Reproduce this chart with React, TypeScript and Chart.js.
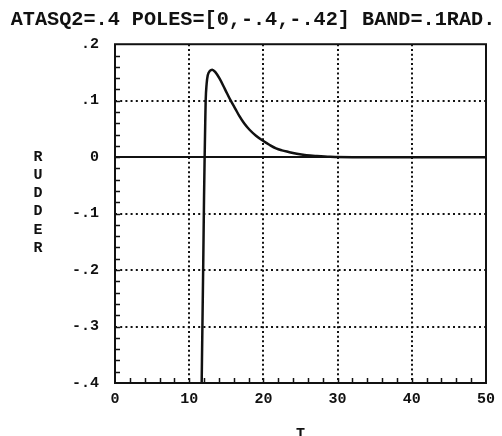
import React, { useEffect, useRef } from "react";
import { Chart, registerables } from "chart.js";

Chart.register(...registerables);

const titleText = "ATASQ2=.4 POLES=[0,-.4,-.42] BAND=.1RAD.";
const yAxisLetters = ["R", "U", "D", "D", "E", "R"];
const xAxisTitle = "T";

const timeValues = [
  11.66, 11.78, 11.9, 12.0, 12.08, 12.16, 12.22, 12.35, 12.5, 12.8, 13.1, 13.5, 14.1, 14.8,
  15.6, 16.2, 16.75, 17.4, 18.1, 19.0, 20.0, 20.8, 21.7, 22.5, 23.4, 24.5, 25.8, 27.2, 29.0,
  32.0, 50.0,
];
const rudderValues = [
  -0.42, -0.3, -0.18, -0.07, 0.0, 0.06, 0.1, 0.13, 0.145, 0.153, 0.155, 0.151, 0.139, 0.121,
  0.1, 0.086, 0.073, 0.06, 0.049, 0.038, 0.0286, 0.022, 0.0155, 0.012, 0.0092, 0.006, 0.0035,
  0.002, 0.0006, 0, 0,
];

const xTickValues = [0, 10, 20, 30, 40, 50];
const xTickLabels = ["0", "10", "20", "30", "40", "50"];
const yTickValues = [0.2, 0.1, 0, -0.1, -0.2, -0.3, -0.4];
const yTickLabels = [".2", ".1", "0", "-.1", "-.2", "-.3", "-.4"];
const xGridValues = [10, 20, 30, 40];
const yGridValues = [0.1, -0.1, -0.2, -0.3];

const INK = "#111111";
const FONT = "'Liberation Mono', 'DejaVu Sans Mono', monospace";

const decorPlugin = {
  id: "decor",
  beforeDatasetsDraw(chart: any) {
    const { ctx, chartArea: a, scales } = chart;
    const xs = scales.x;
    const ys = scales.y;
    ctx.save();
    ctx.strokeStyle = INK;
    ctx.lineWidth = 2;
    ctx.setLineDash([2, 2.7]);
    for (const v of xGridValues) {
      const px = Math.round(xs.getPixelForValue(v));
      ctx.beginPath();
      ctx.moveTo(px, a.top);
      ctx.lineTo(px, a.bottom);
      ctx.stroke();
    }
    ctx.setLineDash([2, 3.2]);
    for (const v of yGridValues) {
      const py = Math.round(ys.getPixelForValue(v));
      ctx.beginPath();
      ctx.moveTo(a.left, py);
      ctx.lineTo(a.right, py);
      ctx.stroke();
    }
    ctx.setLineDash([]);
    const zy = Math.round(ys.getPixelForValue(0));
    ctx.lineWidth = 2;
    ctx.beginPath();
    ctx.moveTo(a.left, zy);
    ctx.lineTo(a.right, zy);
    ctx.stroke();
    ctx.restore();
  },
  afterDatasetsDraw(chart: any) {
    const { ctx, chartArea: a, scales } = chart;
    const xs = scales.x;
    const ys = scales.y;
    ctx.save();
    ctx.strokeStyle = INK;
    ctx.lineWidth = 1.5;
    for (let i = 1; i < 25; i++) {
      const px = Math.round(xs.getPixelForValue(i * 2)) + 0.5;
      ctx.beginPath();
      ctx.moveTo(px, a.bottom);
      ctx.lineTo(px, a.bottom - 5);
      ctx.stroke();
    }
    for (let i = 1; i < 30; i++) {
      const py = Math.round(ys.getPixelForValue(-0.4 + i * 0.02)) + 0.5;
      ctx.beginPath();
      ctx.moveTo(a.left, py);
      ctx.lineTo(a.left + 5, py);
      ctx.stroke();
    }
    ctx.lineWidth = 2;
    ctx.strokeRect(a.left, a.top, a.right - a.left, a.bottom - a.top);
    ctx.fillStyle = INK;
    ctx.font = `bold 15px ${FONT}`;
    ctx.textAlign = "center";
    ctx.textBaseline = "middle";
    yAxisLetters.forEach((ch, i) => {
      ctx.fillText(ch, 38, 157 + i * 18.2);
    });
    ctx.restore();
  },
};

export default function App() {
  const canvasRef = useRef<HTMLCanvasElement | null>(null);

  useEffect(() => {
    const canvas = canvasRef.current;
    if (!canvas) return;
    const points = timeValues.map((t, i) => ({ x: t, y: rudderValues[i] }));
    const chart = new Chart(canvas, {
      type: "line",
      data: {
        datasets: [
          {
            data: points,
            borderColor: INK,
            borderWidth: 2.5,
            pointRadius: 0,
            cubicInterpolationMode: "monotone",
            fill: false,
          },
        ],
      },
      options: {
        responsive: false,
        animation: false,
        layout: { padding: { left: 6, right: 2, top: 0, bottom: 0 } },
        plugins: {
          legend: { display: false },
          tooltip: { enabled: false },
          title: {
            display: true,
            text: titleText,
            color: INK,
            font: { family: FONT, size: 20.2, weight: "bold", lineHeight: 1.15 },
            padding: { top: 8, bottom: 13 },
          },
        },
        scales: {
          x: {
            type: "linear",
            min: 0,
            max: 50,
            afterBuildTicks: (scale: any) => {
              scale.ticks = xTickValues.map((v) => ({ value: v }));
            },
            afterFit: (scale: any) => {
              scale.height = 53;
              scale.paddingRight = 16;
            },
            grid: { display: false, drawTicks: false },
            border: { display: false },
            ticks: {
              color: INK,
              padding: 7,
              maxRotation: 0,
              font: { family: FONT, size: 15, weight: "bold" },
              callback: (v: any) => {
                const i = xTickValues.indexOf(Number(v));
                return i >= 0 ? xTickLabels[i] : "";
              },
            },
            title: {
              display: true,
              text: xAxisTitle,
              color: INK,
              font: { family: FONT, size: 15, weight: "bold" },
              padding: { top: 0, bottom: -7 },
            },
          },
          y: {
            type: "linear",
            min: -0.4,
            max: 0.2,
            afterBuildTicks: (scale: any) => {
              scale.ticks = yTickValues.map((v) => ({ value: v }));
            },
            afterFit: (scale: any) => {
              scale.width = 109;
            },
            grid: { display: false, drawTicks: false },
            border: { display: false },
            ticks: {
              color: INK,
              padding: 16,
              font: { family: FONT, size: 15, weight: "bold" },
              callback: (v: any) => {
                const n = Number(v);
                const i = yTickValues.findIndex((t) => Math.abs(t - n) < 1e-9);
                return i >= 0 ? yTickLabels[i] : "";
              },
            },
          },
        },
      },
      plugins: [decorPlugin],
    } as any);
    return () => chart.destroy();
  }, []);

  return (
    <div style={{ position: "fixed", left: 0, top: 0, width: 502, height: 436, background: "#ffffff" }}>
      <canvas ref={canvasRef} width={502} height={436} />
    </div>
  );
}
